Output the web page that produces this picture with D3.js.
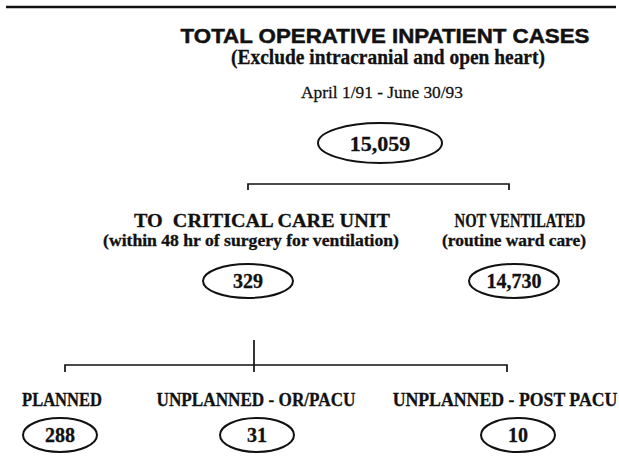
<!DOCTYPE html>
<html>
<head>
<meta charset="utf-8">
<script src="https://cdn.jsdelivr.net/npm/d3@7"></script>
<style>
  html, body { margin: 0; padding: 0; background: #fff; }
  svg { display: block; }
  .serif { font-family: "Liberation Serif", "Times New Roman", serif; font-weight: bold; fill: #111; stroke: #111; stroke-width: 0.3px; }
</style>
</head>
<body>
<div id="chart"></div>
<script>
// flow chart values //
const totalCount = [15059];
const levelTwoLabels = ["TO  CRITICAL CARE UNIT", "NOT VENTILATED"];
const levelTwoNotes = ["(within 48 hr of surgery for ventilation)", "(routine ward care)"];
const levelTwoCounts = [329, 14730];
const levelThreeLabels = ["PLANNED", "UNPLANNED - OR/PACU", "UNPLANNED - POST PACU"];
const levelThreeCounts = [288, 31, 10];

const fmt = d3.format(",");
const W = 619, H = 464;

const svg = d3.select("#chart").append("svg")
  .attr("width", W)
  .attr("height", H);

// x positions per category (read off the scan, not evenly spaced)
const x2 = d3.scaleOrdinal().domain(levelTwoLabels).range([248, 514]);
const x2text = d3.scaleOrdinal().domain(levelTwoLabels).range([262, 520]);
const x3 = d3.scaleOrdinal().domain(levelThreeLabels).range([60, 257, 518]);
const x3text = d3.scaleOrdinal().domain(levelThreeLabels).range([62, 256, 505]);

// scale a centred text horizontally so it spans `w` px (the scan uses a narrow face)
function fit(sel, cx, w) {
  sel.each(function () {
    const t = d3.select(this);
    const k = w / this.getComputedTextLength();
    t.attr("x", 0).attr("transform", `translate(${cx},${t.attr("y")}) scale(${k},1)`).attr("y", 0);
  });
}

// top rule
svg.append("line")
  .attr("x1", 6).attr("x2", 616)
  .attr("y1", 7).attr("y2", 7)
  .attr("stroke", "#111").attr("stroke-width", 2.5);

// headings
svg.append("text")
  .attr("y", 43)
  .attr("text-anchor", "middle")
  .style("font-family", "'Liberation Sans', Arial, sans-serif")
  .style("font-weight", "bold").style("font-size", "21px")
  .style("fill", "#111").style("stroke", "#111").style("stroke-width", "0.5px")
  .text("TOTAL OPERATIVE INPATIENT CASES")
  .call(fit, 385, 409);

svg.append("text").attr("class", "serif")
  .attr("y", 64)
  .attr("text-anchor", "middle")
  .style("font-size", "20px")
  .text("(Exclude intracranial and open heart)")
  .call(fit, 388, 314);

svg.append("text")
  .attr("y", 98)
  .attr("text-anchor", "middle")
  .style("font-family", "'Liberation Serif', 'Times New Roman', serif")
  .style("font-size", "16px").style("fill", "#111")
  .style("stroke", "#111").style("stroke-width", "0.25px")
  .text("April 1/91 - June 30/93")
  .call(fit, 382, 162);

// count bubble helper
function bubble(g, cx, cy, rx, ry, val, size) {
  g.append("ellipse")
    .attr("cx", cx).attr("cy", cy)
    .attr("rx", rx).attr("ry", ry)
    .attr("fill", "none").attr("stroke", "#111").attr("stroke-width", 2);
  g.append("text").attr("class", "serif")
    .attr("x", cx).attr("y", cy)
    .attr("dy", "0.35em")
    .attr("text-anchor", "middle")
    .style("font-size", size + "px")
    .text(fmt(val));
}

// bracket helper: horizontal rule with end ticks
function bracket(x1, x2, y, tick) {
  svg.append("path")
    .attr("d", `M${x1},${y + tick}V${y}H${x2}V${y + tick}`)
    .attr("fill", "none").attr("stroke", "#111").attr("stroke-width", 1.7);
}

// level 1
bubble(svg.append("g"), 380, 143, 62, 20, totalCount[0], 22);

// level 2
bracket(x2(levelTwoLabels[0]), 509, 184, 6);

const lv2Widths = [256, 131];
const lv2NoteWidths = [296, 144];
const lv2NoteX = [251, 514];

levelTwoLabels.forEach((d, i) => {
  const g = svg.append("g").attr("class", "lv2");
  g.append("text").attr("class", "serif")
    .attr("y", 227)
    .attr("text-anchor", "middle")
    .style("font-size", "19px")
    .style("white-space", "pre")
    .text(d)
    .call(fit, x2text(d), lv2Widths[i]);
  g.append("text").attr("class", "serif")
    .attr("y", 246)
    .attr("text-anchor", "middle")
    .style("font-size", "16px")
    .text(levelTwoNotes[i])
    .call(fit, lv2NoteX[i], lv2NoteWidths[i]);
  bubble(g, x2(d), 281, 45, 17, levelTwoCounts[i], 20);
});

// level 3 stem + bracket
svg.append("line")
  .attr("x1", 254).attr("x2", 254)
  .attr("y1", 340).attr("y2", 372)
  .attr("stroke", "#111").attr("stroke-width", 1.7);
bracket(65, 507, 365, 7);

const lv3Widths = [80, 199, 225];

levelThreeLabels.forEach((d, i) => {
  const g = svg.append("g").attr("class", "lv3");
  g.append("text").attr("class", "serif")
    .attr("y", 406)
    .attr("text-anchor", "middle")
    .style("font-size", "19px")
    .text(d)
    .call(fit, x3text(d), lv3Widths[i]);
  bubble(g, x3(d), 435, 37, 17, levelThreeCounts[i], 20);
});
</script>
</body>
</html>
